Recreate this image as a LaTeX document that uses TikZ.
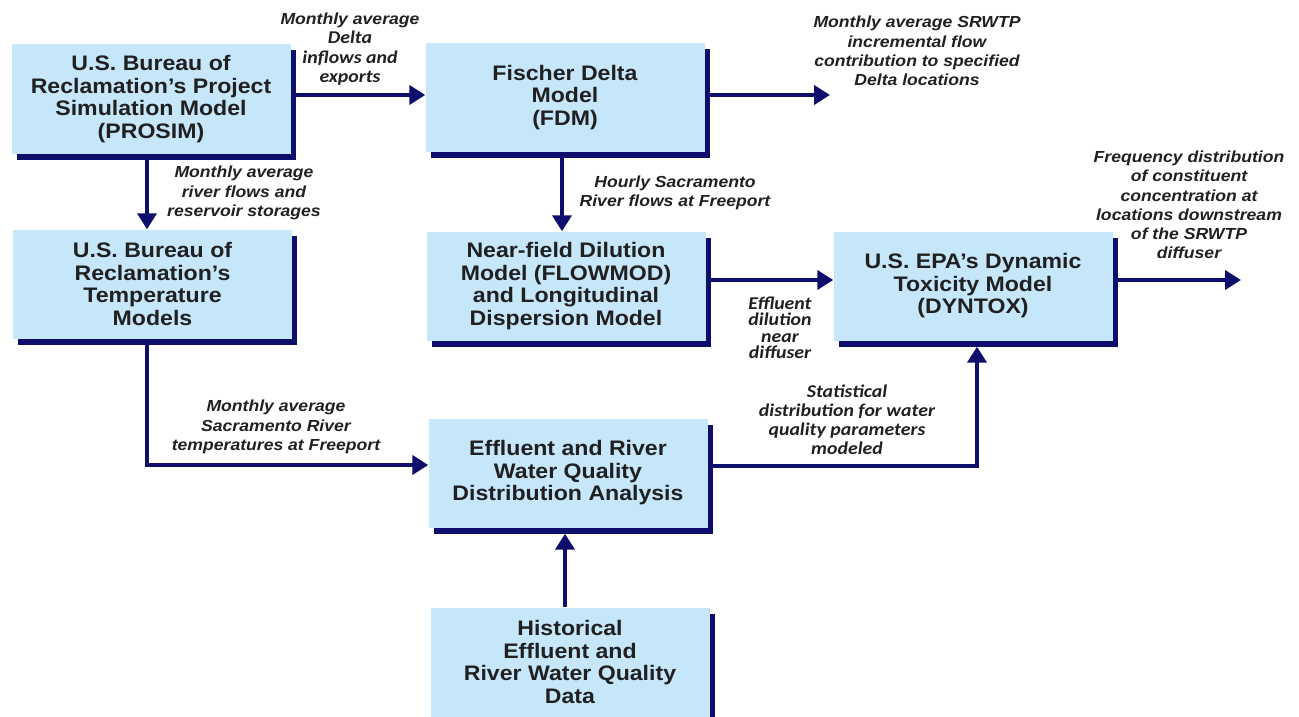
\documentclass[tikz,border=0pt]{standalone}
\usepackage{fontspec}
\usetikzlibrary{arrows.meta,shadows}
\newfontfamily\boxfont[FakeStretch=1.1]{Liberation Sans}
\newfontfamily\arialbl[FakeStretch=1.1]{Liberation Sans}
\newfontfamily\calilbl[FakeStretch=1.1]{Carlito}
\definecolor{boxfill}{RGB}{198,230,250}
\definecolor{navy}{RGB}{14,14,108}
\definecolor{txt}{RGB}{32,32,32}
\tikzset{
  modelbox/.style={fill=boxfill, minimum width=279pt, minimum height=109pt, inner sep=0pt,
    align=center, text=txt, font=\boxfont\bfseries\fontsize{21}{22.5}\selectfont,
    drop shadow={shadow xshift=5pt, shadow yshift=-6pt, fill=navy, opacity=1}},
  albl/.style={align=center, text=txt, inner sep=0pt, font=\arialbl\bfseries\itshape\fontsize{16}{19.3}\selectfont},
  clbl/.style={align=center, text=txt, inner sep=0pt, font=\calilbl\bfseries\itshape\fontsize{18}{19}\selectfont},
  arr/.style={draw=navy, line width=4.5pt, -{Triangle[length=16pt,width=19pt]}},
}
\begin{document}
\begin{tikzpicture}[x=1pt,y=-1pt]
\useasboundingbox (0,0) rectangle (1299,717);
% boxes
\node[modelbox] (prosim) at (151,99) {U.S. Bureau of\\Reclamation’s Project\\Simulation Model\\(PROSIM)};
\node[modelbox] (fdm) at (565,97.5) {Fischer Delta\\Model\\(FDM)};
\node[modelbox] (temp) at (152.5,284) {U.S. Bureau of\\Reclamation’s\\Temperature\\Models};
\node[modelbox] (near) at (566,286) {Near-field Dilution\\Model (FLOWMOD)\\and Longitudinal\\Dispersion Model};
\node[modelbox] (dyntox) at (973,286) {U.S. EPA’s Dynamic\\Toxicity Model\\(DYNTOX)};
\node[modelbox] (effl) at (568,473) {Effluent and River\\Water Quality\\Distribution Analysis};
\node[modelbox] (hist) at (570,662) {Historical\\Effluent and\\River Water Quality\\Data};
% free ends
\coordinate (out1) at (830,95);
\coordinate (out2) at (1241,280);
% connectors
\draw[arr] (prosim.east |- 0,95) -- (fdm.west |- 0,95);
\draw[arr] (fdm.east |- out1) -- (out1);
\draw[arr] (prosim.south -| 147,0) -- (temp.north -| 147,0);
\draw[arr] (fdm.south -| 562,0) -- (near.north -| 562,0);
\draw[arr] (near.east |- 0,280) -- (dyntox.west |- 0,280);
\draw[arr] (dyntox.east |- out2) -- (out2);
\draw[arr] (temp.south -| 147,0) |- (effl.west |- 0,465);
\draw[arr, shorten >=6pt] (effl.east |- 0,466) -| (dyntox.south -| 977,0);
\draw[arr, shorten >=6pt] (hist.north -| 565,0) -- (effl.south -| 565,0);
% labels
\node[albl] (l1) at (350,49) {Monthly average\\{\calilbl\fontsize{18}{19}\selectfont Delta}\\{\calilbl\fontsize{18}{19}\selectfont inflows and}\\{\calilbl\fontsize{18}{19}\selectfont exports}};
\node[albl] (l2) at (917,51) {Monthly average SRWTP\\incremental flow\\contribution to specified\\Delta locations};
\node[albl] (l3) at (244,193) {Monthly average\\river flows and\\reservoir storages};
\node[albl] (l4) at (675,193) {Hourly Sacramento\\River flows at Freeport};
\node[albl] (l5) at (1189,205) {Frequency distribution\\of constituent\\concentration at\\locations downstream\\of the SRWTP\\diffuser};
\node[clbl, font=\calilbl\bfseries\itshape\fontsize{18}{16.5}\selectfont] (l6) at (780,328) {Effluent\\dilution\\near\\diffuser};
\node[clbl] (l7) at (847,420) {Statistical\\distribution for water\\quality parameters\\modeled};
\node[albl] (l8) at (276,427) {Monthly average\\Sacramento River\\temperatures at Freeport};
\end{tikzpicture}
\end{document}
